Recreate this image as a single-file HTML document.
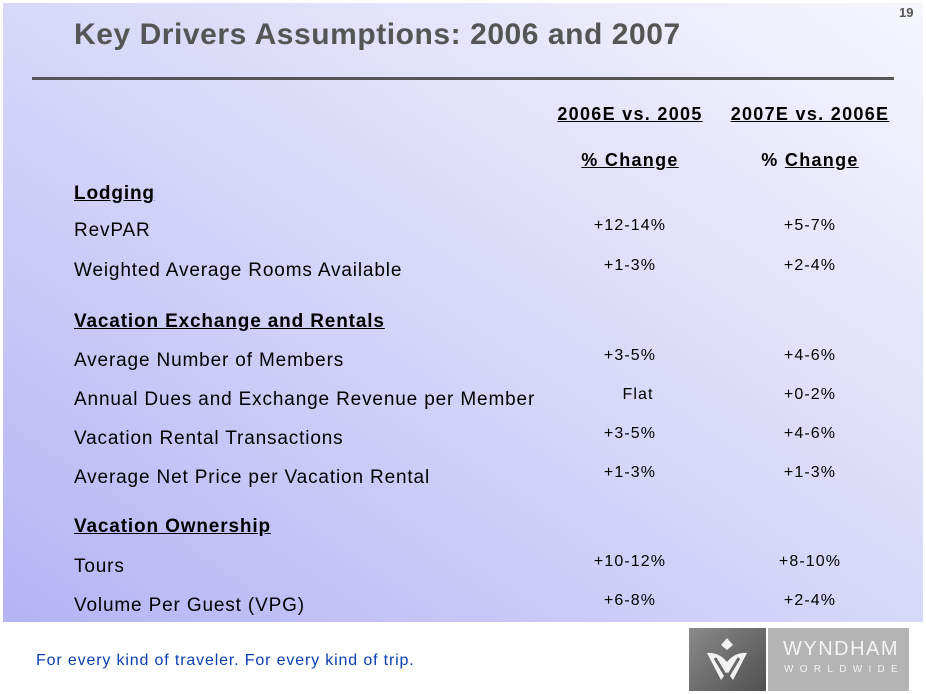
<!DOCTYPE html>
<html><head><meta charset="utf-8"><style>
body{margin:0;width:926px;height:694px;background:#fff;position:relative;overflow:hidden;font-family:"Liberation Sans",Arial,sans-serif}
#bg{position:absolute;left:3px;top:3px;width:920px;height:619px;background:linear-gradient(to top right,#b4b4f6 0%,#d4d4f8 45%,#f6f6fd 100%)}
.t{position:absolute;white-space:nowrap}
.l{left:74px;font-size:19px;color:#000;letter-spacing:0.85px}
.h{font-weight:bold;text-decoration:underline}
.v{font-size:16px;color:#000;transform:translateX(-50%);letter-spacing:1.1px}
</style></head><body>
<div id="bg"></div>
<div class="t" style="left:899px;top:5px;font-size:13px;font-weight:bold;color:#555">19</div>
<div class="t" style="left:74px;top:18px;font-size:30px;font-weight:bold;color:#555;letter-spacing:0.55px">Key Drivers Assumptions: 2006 and 2007</div>
<div style="position:absolute;left:32px;top:77px;width:862px;height:3px;background:#555"></div>
<div class="t h" style="left:630px;top:104px;font-size:18px;transform:translateX(-50%);letter-spacing:1.3px">2006E vs. 2005</div>
<div class="t h" style="left:810px;top:104px;font-size:18px;transform:translateX(-50%);letter-spacing:1.3px">2007E vs. 2006E</div>
<div class="t" style="left:630px;top:150px;font-size:18px;font-weight:bold;transform:translateX(-50%);letter-spacing:1.3px"><u>% Change</u></div>
<div class="t" style="left:810px;top:150px;font-size:18px;font-weight:bold;transform:translateX(-50%);letter-spacing:1.3px">% <u>Change</u></div>
<div class="t l h" style="top:183px">Lodging</div>
<div class="t l" style="top:220px">RevPAR</div>
<div class="t l" style="top:260px">Weighted Average Rooms Available</div>
<div class="t l h" style="top:311px">Vacation Exchange and Rentals</div>
<div class="t l" style="top:350px">Average Number of Members</div>
<div class="t l" style="top:389px">Annual Dues and Exchange Revenue per Member</div>
<div class="t l" style="top:428px">Vacation Rental Transactions</div>
<div class="t l" style="top:467px">Average Net Price per Vacation Rental</div>
<div class="t l h" style="top:516px">Vacation Ownership</div>
<div class="t l" style="top:556px">Tours</div>
<div class="t l" style="top:595px">Volume Per Guest (VPG)</div>
<div class="t v" style="left:630px;top:217px">+12-14%</div><div class="t v" style="left:810px;top:217px">+5-7%</div>
<div class="t v" style="left:630px;top:257px">+1-3%</div><div class="t v" style="left:810px;top:257px">+2-4%</div>
<div class="t v" style="left:630px;top:347px">+3-5%</div><div class="t v" style="left:810px;top:347px">+4-6%</div>
<div class="t v" style="left:638px;top:386px">Flat</div><div class="t v" style="left:810px;top:386px">+0-2%</div>
<div class="t v" style="left:630px;top:425px">+3-5%</div><div class="t v" style="left:810px;top:425px">+4-6%</div>
<div class="t v" style="left:630px;top:464px">+1-3%</div><div class="t v" style="left:810px;top:464px">+1-3%</div>
<div class="t v" style="left:630px;top:553px">+10-12%</div><div class="t v" style="left:810px;top:553px">+8-10%</div>
<div class="t v" style="left:630px;top:592px">+6-8%</div><div class="t v" style="left:810px;top:592px">+2-4%</div>
<div class="t" style="left:36px;top:652px;font-size:16px;color:#0a3fb0;letter-spacing:0.85px">For every kind of traveler. For every kind of trip.</div>
<div style="position:absolute;left:689px;top:628px;width:77px;height:63px;background:linear-gradient(135deg,#8a8a8a,#505050)"></div>
<svg style="position:absolute;left:689px;top:628px" width="77" height="63" viewBox="0 0 77 63">
<path d="M38 10 L44 17 L38 22 L32 17Z M18 25 Q30 24 38 34 Q46 24 58 25 L44 52 L38 44 L32 52Z" fill="#f2f2f2"/>
<path d="M26 30 L38 50 M50 30 L38 50" stroke="#666" stroke-width="3" fill="none"/>
</svg>
<div style="position:absolute;left:768px;top:628px;width:141px;height:63px;background:#b4b4b4"></div>
<div class="t" style="left:783px;top:638px;font-size:20px;color:#f4f4f4;letter-spacing:1.5px">WYNDHAM</div>
<div class="t" style="left:784px;top:664px;font-size:10px;color:#f4f4f4;letter-spacing:6.3px">WORLDWIDE</div>
</body></html>
